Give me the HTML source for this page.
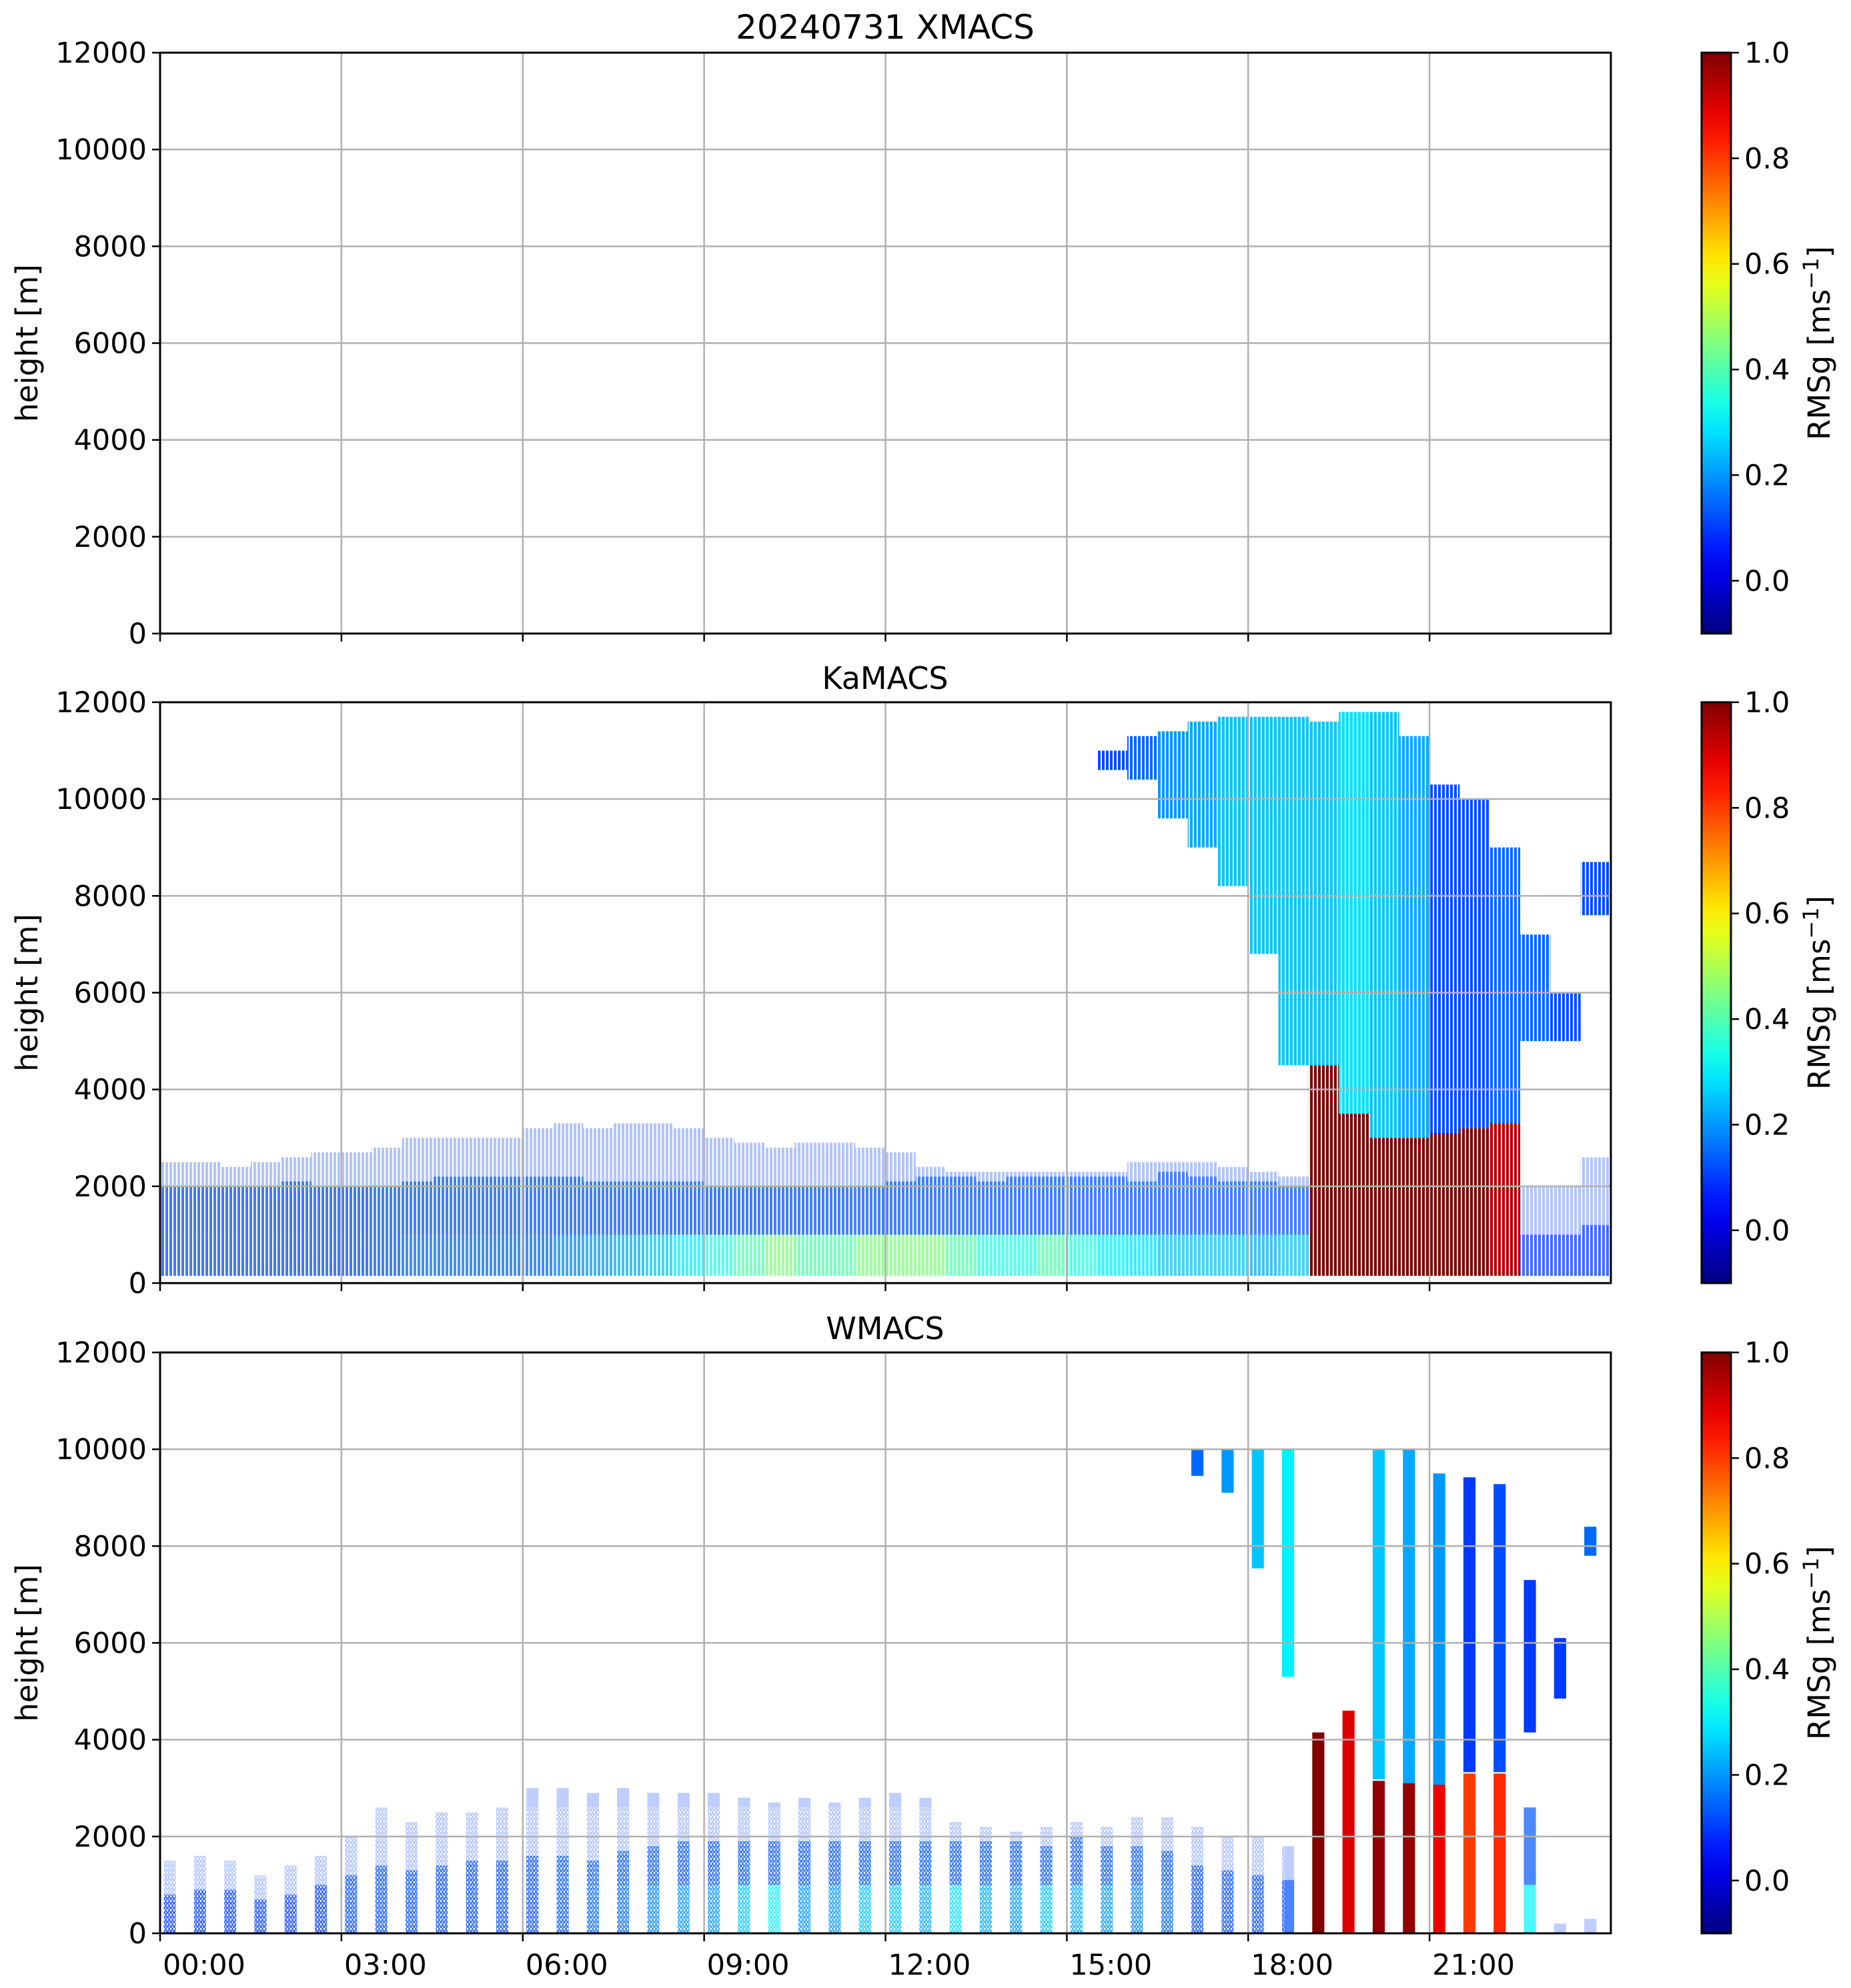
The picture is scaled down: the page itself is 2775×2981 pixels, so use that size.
<!DOCTYPE html>
<html><head><meta charset="utf-8">
<style>
html,body{margin:0;padding:0;background:#fff;}
svg{display:block;font-family:"DejaVu Sans","Liberation Sans",sans-serif;}
</style></head>
<body>
<svg id="fig" width="2775" height="2981" viewBox="0 0 2775 2981" xmlns="http://www.w3.org/2000/svg">
<defs>
<linearGradient id="jetgrad" x1="0" y1="1" x2="0" y2="0"></linearGradient>
<pattern id="stripes" width="6" height="10" patternUnits="userSpaceOnUse"><rect x="0" y="0" width="2" height="10" fill="#fff"/></pattern>
<pattern id="stripesW" width="5" height="7" patternUnits="userSpaceOnUse"><rect x="0" y="0" width="2" height="3" fill="#fff"/><rect x="3" y="4" width="1" height="3" fill="#fff"/></pattern>
<clipPath id="clip1"><rect x="240" y="1053" width="2175" height="871"/></clipPath>
<clipPath id="clip2"><rect x="240" y="2028" width="2175" height="871"/></clipPath>
</defs>
<text x="1327" y="58" font-size="50" text-anchor="middle">20240731 XMACS</text>
<text x="1327" y="1033" font-size="46" text-anchor="middle">KaMACS</text>
<text x="1327" y="2008" font-size="46" text-anchor="middle">WMACS</text>
<g id="layer"></g>
</svg>
<script>
// ---- KaMACS data (30-min bins, t = 0, 0.5, ... 23.5 h) ----
const kaLowTop = [2500,2500,2400,2500,2600,2700,2700,2800,3000,3000,3000,3000,3200,3300,3200,3300,3300,3200,3000,2900,2800,2900,2900,2800,2700,2400,2300,2300,2300,2300,2300,2300,2500,2500,2500,2400,2300,2200,3000,3000,3000,3000,3000,3000,3000,2000,2000,2600];
const kaLowDense = [2000,2000,2000,2000,2100,2000,2000,2000,2100,2200,2200,2200,2200,2200,2100,2100,2100,2100,2000,2000,2000,2000,2000,2000,2100,2200,2200,2100,2200,2200,2200,2200,2100,2300,2200,2100,2100,2000,4500,3500,3000,3000,3100,3200,3300,1000,1000,1200];
const kaLowVal = [0.12,0.12,0.12,0.12,0.12,0.12,0.12,0.13,0.15,0.15,0.15,0.15,0.15,0.18,0.2,0.22,0.25,0.3,0.35,0.4,0.45,0.4,0.4,0.45,0.45,0.45,0.4,0.35,0.35,0.4,0.35,0.3,0.28,0.25,0.25,0.25,0.22,0.25,1,1,1,1,1,1,0.95,0.1,0.1,0.1];
const kaHighBase = [0,0,0,0,0,0,0,0,0,0,0,0,0,0,0,0,0,0,0,0,0,0,0,0,0,0,0,0,0,0,0,10600,10400,9600,9000,8200,6800,4500,4500,3500,3000,3000,3100,3200,3300,5000,5000,7600];
const kaHighTop = [0,0,0,0,0,0,0,0,0,0,0,0,0,0,0,0,0,0,0,0,0,0,0,0,0,0,0,0,0,0,0,11000,11300,11400,11600,11700,11700,11700,11600,11800,11800,11300,10300,10000,9000,7200,6000,8700];
const kaHighVal = [0,0,0,0,0,0,0,0,0,0,0,0,0,0,0,0,0,0,0,0,0,0,0,0,0,0,0,0,0,0,0,0.12,0.15,0.2,0.22,0.25,0.25,0.25,0.25,0.28,0.25,0.22,0.12,0.12,0.15,0.15,0.12,0.12];
// ---- WMACS data (scan bars, centre t = 0.16 + 0.5*i h) ----
const wTop = [1500,1600,1500,1200,1400,1600,2000,2600,2300,2500,2500,2600,3000,3000,2900,3000,2900,2900,2900,2800,2700,2800,2700,2800,2900,2800,2300,2200,2100,2200,2300,2200,2400,2400,2200,2000,2000,1800,4150,4600,3150,3100,3100,3300,3300,2600,200,300];
const wDense = [800,900,900,700,800,1000,1200,1400,1300,1400,1500,1500,1600,1600,1500,1700,1800,1900,1900,1900,1900,1900,1900,1900,1900,1900,1900,1900,1900,1800,2000,1800,1800,1700,1400,1300,1200,1100,4150,4600,3150,3100,3100,3300,3300,2600,0,0];
const wVal = [0.1,0.1,0.1,0.1,0.1,0.1,0.12,0.12,0.12,0.12,0.12,0.12,0.12,0.13,0.15,0.15,0.18,0.2,0.2,0.25,0.3,0.2,0.2,0.25,0.25,0.22,0.28,0.22,0.2,0.25,0.22,0.2,0.18,0.15,0.12,0.12,0.12,0.12,1,0.9,0.98,0.98,0.88,0.8,0.82,0.3,0.1,0.1];
const wHighBase = [0,0,0,0,0,0,0,0,0,0,0,0,0,0,0,0,0,0,0,0,0,0,0,0,0,0,0,0,0,0,0,0,0,0,9450,9100,7540,5300,0,0,3180,3100,3070,3330,3330,4150,4850,7800];
const wHighTop = [0,0,0,0,0,0,0,0,0,0,0,0,0,0,0,0,0,0,0,0,0,0,0,0,0,0,0,0,0,0,0,0,0,0,10000,10000,10000,10000,0,0,10000,10000,9500,9420,9280,7300,6100,8400];
const wHighVal = [0,0,0,0,0,0,0,0,0,0,0,0,0,0,0,0,0,0,0,0,0,0,0,0,0,0,0,0,0,0,0,0,0,0,0.15,0.2,0.25,0.3,0,0,0.25,0.22,0.2,0.1,0.12,0.1,0.1,0.15];
// ---- axes ----
const yTicks = [0,2000,4000,6000,8000,10000,12000];
const xTicks = [0,3,6,9,12,15,18,21];
const xTickLabels = ["00:00","03:00","06:00","09:00","12:00","15:00","18:00","21:00"];
const cbTicks = [0.0,0.2,0.4,0.6,0.8,1.0];
const cbMin = -0.1, cbMax = 1.0;

const NS = "http://www.w3.org/2000/svg";
const layer = document.getElementById('layer');
const L = 240, R = 2415, PH = 871;
const tops = [79, 1053, 2028];
const SPLIT = 1000;
function xS(t){ return L + t*(R-L)/24; }
function yS(h, top){ return top + PH - h/12000*PH; }
function cS(v, top){ return top + PH - (v-cbMin)/(cbMax-cbMin)*PH; }
function cl(x){ return Math.max(0, Math.min(1, x)); }
function jet(v){
  const n = (v-cbMin)/(cbMax-cbMin);
  const r = cl(1.5-Math.abs(4*n-3)), g = cl(1.5-Math.abs(4*n-2)), b = cl(1.5-Math.abs(4*n-1));
  return 'rgb('+Math.round(r*255)+','+Math.round(g*255)+','+Math.round(b*255)+')';
}
function mk(tag, attrs, parent){
  const e = document.createElementNS(NS, tag);
  for (const k in attrs) e.setAttribute(k, attrs[k]);
  (parent||layer).appendChild(e);
  return e;
}
const grad = document.getElementById('jetgrad');
for (let i=0;i<=20;i++){
  const v = cbMin + i/20*(cbMax-cbMin);
  const s = document.createElementNS(NS,'stop');
  s.setAttribute('offset', (i/20*100)+'%');
  s.setAttribute('stop-color', jet(v));
  grad.appendChild(s);
}
function lowColumn(g, x0, x1, base, dense, val, top, name, op){
  if (dense <= base) return;
  if (val >= 0.7){
    const r = mk('rect', {x:x0, y:yS(dense,top), width:x1-x0, height:yS(base,top)-yS(dense,top), fill:jet(val)}, g);
    
    
    return;
  }
  const mid = Math.min(SPLIT, dense);
  const a = mk('rect', {x:x0, y:yS(mid,top), width:x1-x0, height:yS(base,top)-yS(mid,top), fill:jet(val), 'fill-opacity':op}, g);
  
  
  if (dense > mid){
    const b = mk('rect', {x:x0, y:yS(dense,top), width:x1-x0, height:yS(mid,top)-yS(dense,top), fill:jet(Math.min(val,0.13)), 'fill-opacity':op}, g);
    
    
  }
}

// ---- KaMACS marks ----
const gKa = mk('g', {'clip-path':'url(#clip1)'});


const top2 = tops[1];
for (let i=0;i<kaLowTop.length;i++){
  const x0 = xS(i*0.5), x1 = xS(i*0.5+0.5);
  if (kaLowTop[i] > kaLowDense[i]){
    const r = mk('rect', {x:x0, y:yS(kaLowTop[i],top2), width:x1-x0, height:yS(kaLowDense[i],top2)-yS(kaLowTop[i],top2), fill:jet(0.1), 'fill-opacity':0.3}, gKa);
    
    
  }
  lowColumn(gKa, x0, x1, 150, kaLowDense[i], kaLowVal[i], top2, 'ka-low-cell', 0.75);
  if (kaHighTop[i] > kaHighBase[i]){
    const h = mk('rect', {x:x0, y:yS(kaHighTop[i],top2), width:x1-x0, height:yS(kaHighBase[i],top2)-yS(kaHighTop[i],top2), fill:jet(kaHighVal[i])}, gKa);
    
    
  }
}
mk('rect', {x:L, y:top2, width:R-L, height:PH, fill:'url(#stripes)'}, gKa);

// ---- WMACS marks ----
const gW = mk('g', {'clip-path':'url(#clip2)'});


const top3 = tops[2];
for (let i=0;i<wTop.length;i++){
  const tc = 0.16 + 0.5*i;
  const x0 = xS(tc-0.1), x1 = xS(tc+0.1);
  if (wTop[i] > wDense[i]){
    const r = mk('rect', {x:x0, y:yS(wTop[i],top3), width:x1-x0, height:yS(wDense[i],top3)-yS(wTop[i],top3), fill:jet(0.1), 'fill-opacity':0.25}, gW);
    
    
  }
  lowColumn(gW, x0, x1, 0, wDense[i], wVal[i], top3, 'w-low-bar', 0.7);
  if (wHighTop[i] > wHighBase[i]){
    const h = mk('rect', {x:x0, y:yS(wHighTop[i],top3), width:x1-x0, height:yS(wHighBase[i],top3)-yS(wHighTop[i],top3), fill:jet(wHighVal[i])}, gW);
    
    
  }
}
mk('rect', {x:L, y:yS(2600,top3), width:xS(18.6)-L, height:yS(0,top3)-yS(2600,top3), fill:'url(#stripesW)'}, gW);

// ---- axes, grids, ticks ----
tops.forEach((top, p) => {
  const ax = mk('g', {});
  
  
  yTicks.forEach(v => {
    const y = yS(v, top);
    mk('line', {x1:L, x2:R, y1:y, y2:y, stroke:'#b0b0b0', 'stroke-width':2.5}, ax);
    mk('line', {x1:L-12, x2:L, y1:y, y2:y, stroke:'#000', 'stroke-width':2.5}, ax);
    const t = mk('text', {x:L-20, y:y+15, 'font-size':43, 'text-anchor':'end'}, ax);
    t.textContent = v;
    
    
  });
  xTicks.forEach((v, k) => {
    const x = xS(v);
    mk('line', {x1:x, x2:x, y1:top, y2:top+PH, stroke:'#b0b0b0', 'stroke-width':2.5}, ax);
    mk('line', {x1:x, x2:x, y1:top+PH, y2:top+PH+12, stroke:'#000', 'stroke-width':2.5}, ax);
    if (p === 2){
      const t = mk('text', {x:x+4, y:top+PH+62, 'font-size':43, 'text-anchor':'start'}, ax);
      t.textContent = xTickLabels[k];
      
      
    }
  });
  mk('rect', {x:L, y:top, width:R-L, height:PH, fill:'none', stroke:'#000', 'stroke-width':3}, ax);
  const yl = mk('text', {x:0, y:0, 'font-size':45, 'text-anchor':'middle', transform:'translate(56,'+(top+PH/2)+') rotate(-90)'}, ax);
  yl.textContent = 'height [m]';
  
  
  const cb = mk('g', {});
  
  
  mk('rect', {x:2551, y:top, width:44, height:PH, fill:'url(#jetgrad)', stroke:'#000', 'stroke-width':3}, cb);
  cbTicks.forEach(v => {
    const y = cS(v, top);
    mk('line', {x1:2595, x2:2607, y1:y, y2:y, stroke:'#000', 'stroke-width':2.5}, cb);
    const t = mk('text', {x:2615, y:y+15, 'font-size':43}, cb);
    t.textContent = v.toFixed(1);
    
    
  });
  const cl2 = mk('text', {x:0, y:0, 'font-size':45, 'text-anchor':'middle', transform:'translate(2743,'+(top+PH/2)+') rotate(-90)'}, cb);
  cl2.innerHTML = 'RMSg [ms<tspan dy="-17" font-size="32">\u22121</tspan><tspan dy="17">]</tspan>';
  
  
});
</script>
</body></html>
